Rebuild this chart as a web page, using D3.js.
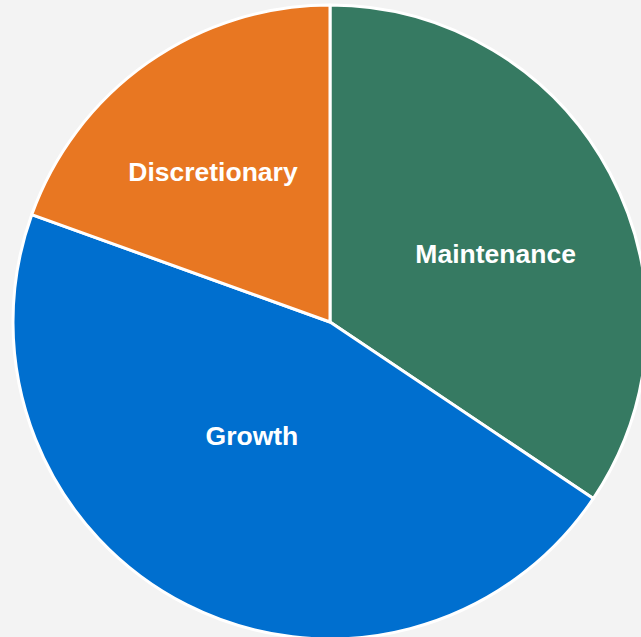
<!DOCTYPE html>
<html>
<head>
<meta charset="utf-8">
<script src="https://cdn.jsdelivr.net/npm/d3@7"></script>
<style>
  html, body { margin:0; padding:0; background:#f3f3f3; }
  #canvas { width:641px; height:637px; overflow:hidden; }
  text { font-family: "Liberation Sans", Arial, sans-serif; font-weight:bold; fill:#fff; }
</style>
</head>
<body>
<div id="canvas" class="canvas"></div>
<script>
// slice data (share of total, %)
var categories = ['Maintenance', 'Growth', 'Discretionary'];
var shares = [34.4, 46.1, 19.5];
var colors = ['#367a62', '#006fcf', '#e87722'];

var outerWidth = 641, outerHeight = 637;
var cx = 330, cy = 322, r = 317;

// labels aren't all on one ring in the original, nudge them a bit off the centroid
var labelNudge = [[9, 15], [2, -45], [-15, -5]];

var svg = d3.select('.canvas')
    .append('svg')
    .attr('width', outerWidth)
    .attr('height', outerHeight);

var plot = svg.append('g')
    .attr('transform', 'translate(' + cx + ',' + cy + ')');

var rows = categories.map(function(c, i){
    return {name: c, value: shares[i], color: colors[i], nudge: labelNudge[i]};
});

var pie = d3.pie()
    .sort(null)
    .value(function(d){ return d.value; });

var arc = d3.arc().innerRadius(0).outerRadius(r);
var labelArc = d3.arc().innerRadius(r * 0.56).outerRadius(r * 0.56);

var slices = plot.selectAll('.slice')
    .data(pie(rows))
    .enter()
    .append('g')
    .attr('class', 'slice');

slices.append('path')
    .attr('d', arc)
    .style('fill', function(d){ return d.data.color; })
    .style('stroke', '#fff')
    .style('stroke-width', 3)
    .style('stroke-linejoin', 'round');

slices.append('text')
    .attr('transform', function(d){
        var c = labelArc.centroid(d);
        return 'translate(' + (c[0] + d.data.nudge[0]) + ',' + (c[1] + d.data.nudge[1]) + ')';
    })
    .attr('text-anchor', 'middle')
    .attr('dy', '0.35em')
    .style('font-size', '26.5px')
    .text(function(d){ return d.data.name; });
</script>
</body>
</html>
